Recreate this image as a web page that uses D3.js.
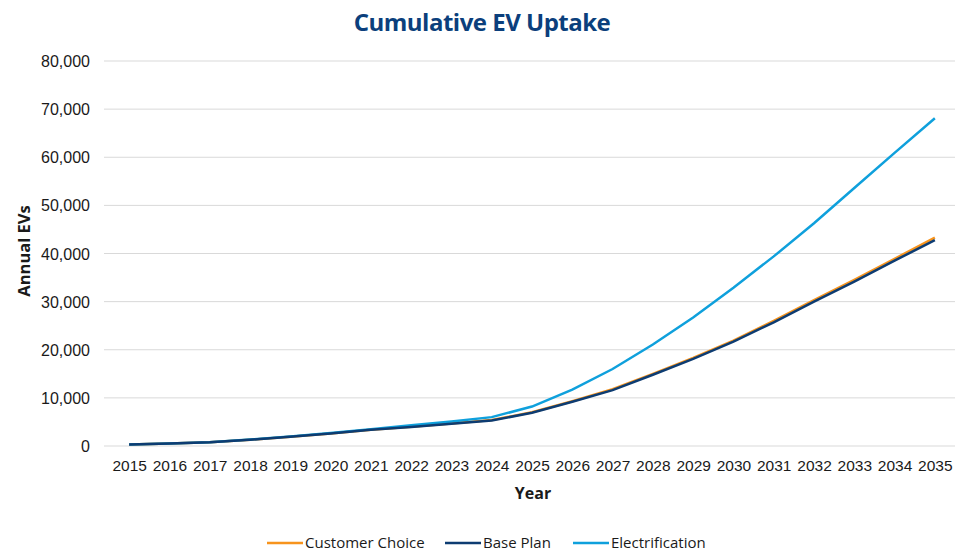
<!DOCTYPE html>
<html>
<head>
<meta charset="utf-8">
<script src="https://cdn.jsdelivr.net/npm/d3@7"></script>
<style>
  body { margin: 0; background: #fff; }
  svg { font-family: "Open Sans", "Noto Sans", sans-serif; }
</style>
</head>
<body>
<div id="chart"></div>
<script>
  // chart data
  var years = ['2015', '2016', '2017', '2018', '2019', '2020', '2021', '2022', '2023', '2024', '2025',
               '2026', '2027', '2028', '2029', '2030', '2031', '2032', '2033', '2034', '2035'];
  var customerChoice = [300, 500, 800, 1300, 1900, 2600, 3400, 4000, 4700, 5400, 7000,
                        9300, 11800, 15000, 18300, 21900, 26000, 30300, 34500, 38900, 43300];
  var basePlan = [300, 500, 800, 1300, 1900, 2600, 3400, 3950, 4600, 5300, 6900,
                  9200, 11600, 14800, 18100, 21700, 25700, 30000, 34150, 38500, 42800];
  var electrification = [300, 500, 800, 1350, 2000, 2700, 3500, 4300, 5100, 6000, 8200,
                         11700, 16000, 21100, 26700, 32900, 39400, 46300, 53600, 60900, 68100];
  var yTicks = [0, 10000, 20000, 30000, 40000, 50000, 60000, 70000, 80000];
  var seriesNames = ['Customer Choice', 'Base Plan', 'Electrification'];

  var width = 957, height = 558;
  var margin = {top: 61, right: 2, bottom: 112, left: 109};

  var svg = d3.select('#chart').append('svg')
    .attr('width', width)
    .attr('height', height);

  var x = d3.scalePoint()
    .domain(years)
    .range([margin.left, width - margin.right])
    .padding(0.5);

  var y = d3.scaleLinear()
    .domain([0, 80000])
    .range([height - margin.bottom, margin.top]);

  var color = d3.scaleOrdinal()
    .domain(seriesNames)
    .range(['#f7941d', '#0d3c72', '#0fa0dc']);

  // title
  svg.append('text')
    .attr('x', 482)
    .attr('y', 31)
    .attr('text-anchor', 'middle')
    .style('font-size', '24px')
    .style('font-weight', 'bold')
    .style('letter-spacing', '-0.5px')
    .style('fill', '#0b3f7c')
    .text('Cumulative EV Uptake');

  // gridlines
  svg.append('g')
    .selectAll('line')
    .data(yTicks)
    .enter()
    .append('line')
      .attr('x1', margin.left - 5)
      .attr('x2', width - margin.right)
      .attr('y1', function (d) { return y(d); })
      .attr('y2', function (d) { return y(d); })
      .attr('stroke', '#d9d9d9')
      .attr('stroke-width', 1);

  // y axis
  var yAxis = svg.append('g')
    .attr('transform', 'translate(' + (margin.left - 16) + ',0)')
    .call(d3.axisLeft(y).tickValues(yTicks).tickSize(0).tickFormat(d3.format(',')));
  yAxis.select('.domain').remove();
  yAxis.selectAll('text')
    .style('font-size', '16px')
    .style('fill', '#1a1a1a')
    .attr('dy', '0.35em');

  // x axis
  var xAxis = svg.append('g')
    .attr('transform', 'translate(0,' + (height - margin.bottom + 11) + ')')
    .call(d3.axisBottom(x).tickSize(0));
  xAxis.select('.domain').remove();
  xAxis.selectAll('text')
    .style('font-size', '15.5px')
    .style('fill', '#1a1a1a')
    .attr('dy', '0.71em');

  // axis titles
  svg.append('text')
    .attr('x', 533)
    .attr('y', 499)
    .attr('text-anchor', 'middle')
    .style('font-size', '16px')
    .style('font-weight', 'bold')
    .style('fill', '#1a1a1a')
    .text('Year');

  svg.append('text')
    .attr('transform', 'translate(30,251) rotate(-90)')
    .attr('text-anchor', 'middle')
    .style('font-size', '16.5px')
    .style('font-weight', 'bold')
    .style('fill', '#1a1a1a')
    .text('Annual EVs');

  // lines
  var line = d3.line()
    .x(function (d, i) { return x(years[i]); })
    .y(function (d) { return y(d); });

  var series = [
    {name: 'Customer Choice', values: customerChoice},
    {name: 'Electrification', values: electrification},
    {name: 'Base Plan', values: basePlan}
  ];

  svg.append('g')
    .selectAll('path')
    .data(series)
    .enter()
    .append('path')
      .attr('d', function (d) { return line(d.values); })
      .attr('fill', 'none')
      .attr('stroke', function (d) { return color(d.name); })
      .attr('stroke-width', 2.5);

  // legend
  var legendX = [267, 445, 573];
  var legend = svg.append('g')
    .selectAll('g')
    .data(seriesNames)
    .enter()
    .append('g')
      .attr('transform', function (d, i) { return 'translate(' + legendX[i] + ',543)'; });

  legend.append('line')
    .attr('x1', 0)
    .attr('x2', 36)
    .attr('stroke', function (d) { return color(d); })
    .attr('stroke-width', 2.5);

  legend.append('text')
    .attr('x', 38)
    .attr('dy', '0.35em')
    .style('font-size', '15px')
    .style('fill', '#1a1a1a')
    .text(function (d) { return d; });
</script>
</body>
</html>
